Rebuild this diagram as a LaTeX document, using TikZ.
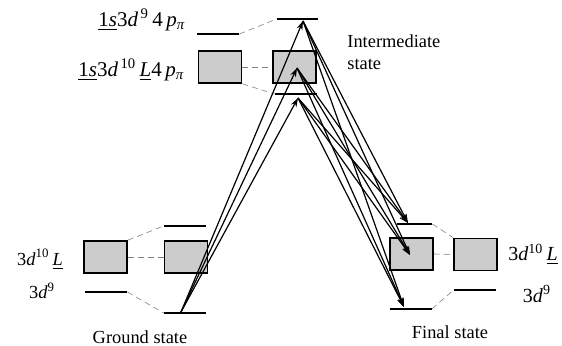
\documentclass[tikz,border=0pt]{standalone}
\usepackage{fontspec}
\setmainfont{Liberation Serif}
\usetikzlibrary{arrows.meta, positioning}

\begin{document}
\begin{tikzpicture}[
  x=0.5pt, y=-0.5pt,
  lvl/.style={rectangle, fill=black, inner sep=0pt, minimum height=1.1pt, minimum width=#1},
  lvl/.default=21pt,
  band/.style={rectangle, draw, line width=0.8pt, fill=gray!40, inner sep=0pt, minimum width=21.5pt, minimum height=16pt},
  link/.style={gray, densely dashed, line width=0.3pt},
  trans/.style={-{Stealth[length=4.5pt, width=3pt]}, line width=0.6pt},
  lab/.style={font=\fontsize{9.2}{11}\selectfont, inner sep=0pt},
]
  \useasboundingbox (0,0) rectangle (562,346);

  \node[lvl] (iL9) at (218,34) {};
  \node[band] (iLb) at (220,67) {};
  \node[lvl=20.5pt] (iC9) at (297.5,19) {};
  \node[band] (iCb) at (294.5,67) {};
  \node[lvl] (iCl) at (296,94) {};

  \node[band] (gLb) at (105.5,257) {};
  \node[lvl] (gL9) at (106,292) {};
  \node[lvl] (gRu) at (185,226) {};
  \node[band] (gRb) at (186,257) {};
  \node[lvl] (gR9) at (185,313) {};

  \node[lvl=17.5pt] (fLu) at (414.5,224) {};
  \node[band] (fLb) at (411.5,254) {};
  \node[lvl] (fL9) at (410.5,309) {};
  \node[band] (fRb) at (475.5,254.5) {};
  \node[lvl] (fR9) at (475,290) {};

  \draw[link] (iL9.east) -- (iC9.west);
  \draw[link] (iLb.east) -- (iCb.west);
  \draw[link] (iLb.south east) -- (iCl.west);
  \draw[link] (gLb.north east) -- (gRu.west);
  \draw[link] (gLb.east) -- (gRb.west);
  \draw[link] (gL9.east) -- (gR9.west);
  \draw[link] (fLu.east) -- (fRb.north west);
  \draw[link] (fLb.east) -- (fRb.west);
  \draw[link] (fL9.east) -- (fR9.west);

  \coordinate (g0) at (181,312);
  \coordinate (i1) at (303,21);
  \coordinate (i2) at (297,68);
  \coordinate (i3) at (298,98);
  \coordinate (f1) at (408,223);
  \coordinate (f2) at (410,255);
  \coordinate (f3) at (404,307);

  \foreach \t in {i1,i2,i3}
    \draw[trans] (g0) -- (\t);
  \foreach \s in {i1,i2,i3}
    \foreach \t in {f1,f2,f3}
      \draw[trans] (\s) -- (\t);

  \node[lab, font=\fontsize{10.5}{12}\selectfont, anchor=east] (top9) at (186,20) {\underline{1\textit{s}}3\textit{d}\textsuperscript{\,9}\,4\,\textit{p}\textsubscript{\textit{π}}};
  \node[lab, font=\fontsize{10.5}{12}\selectfont, anchor=east] (top10) at (185,70) {\underline{1\textit{s}}3\textit{d}\textsuperscript{\,10}\,\underline{\textit{L}}4\,\textit{p}\textsubscript{\textit{π}}};
  \node[lab, anchor=north west, align=left] (inter) at (347,34) {Intermediate\\state};

  \node[lab] (gl10) at (40,259) {3\textit{d}\textsuperscript{10}\,\underline{\textit{L}}};
  \node[lab] (gl9) at (42,291) {3\textit{d}\textsuperscript{9}};
  \node[lab] (ground) at (140,337) {Ground state};

  \node[lab, font=\fontsize{10}{12}\selectfont] (fl10) at (533,254) {3\textit{d}\textsuperscript{10}\,\underline{\textit{L}}};
  \node[lab, font=\fontsize{10}{12}\selectfont] (fl9) at (537,294) {3\textit{d}\textsuperscript{9}};
  \node[lab] (final) at (450,332) {Final state};
\end{tikzpicture}
\end{document}
